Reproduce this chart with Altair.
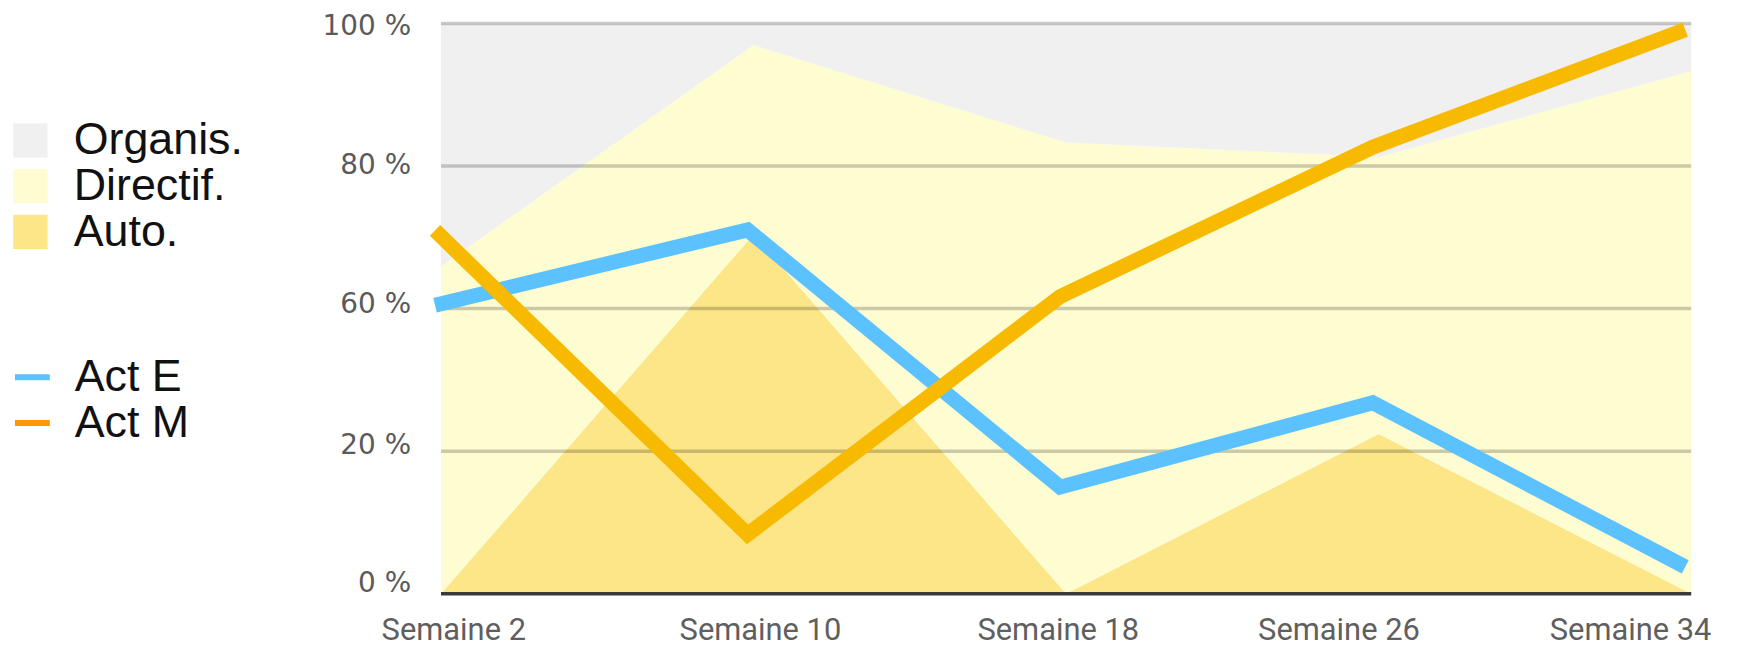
import altair as alt
import pandas as pd

# ---- data ----
semaines = ["Semaine 2", "Semaine 10", "Semaine 18", "Semaine 26", "Semaine 34"]
auto = [0, 63, 0, 28, 0]
directif = [57.4, 33.2, 79.1, 48.6, 91.6]
organis = [42.6, 3.8, 20.9, 23.4, 8.4]
act_e = [50.6, 63.8, 18.7, 33.5, 4.7]
act_m = [63.7, 10.4, 52.1, 78.3, 98.9]

y_grid = [25, 50, 75, 100]
y_labels = ["0 %", "20 %", "60 %", "80 %", "100 %"]

area_names = ["Organis.", "Directif.", "Auto."]
area_colors = ["#F0F0F0", "#FEFCD1", "#FCE687"]
line_names = ["Act E", "Act M"]
line_colors = ["#5BC2FF", "#F7BA00"]
line_legend_colors = ["#5BC2FF", "#FF9800"]

# label placement (style): where each tick label sits along its axis
x_label_pos = [0.041, 1.022, 1.975, 2.873, 3.806]
y_label_pos = [0.3, 24.43, 49.21, 73.59, 98.04]

W, H = 1256, 573

# ---- tables ----
rows = []
for i, s in enumerate(semaines):
    rows.append({"idx": i, "semaine": s, "categorie": "Auto.", "valeur": auto[i], "rang": 0})
    rows.append({"idx": i, "semaine": s, "categorie": "Directif.", "valeur": directif[i], "rang": 1})
    rows.append({"idx": i, "semaine": s, "categorie": "Organis.", "valeur": organis[i], "rang": 2})
areas_df = pd.DataFrame(rows)

lrows = []
for i, s in enumerate(semaines):
    lrows.append({"idx": i, "semaine": s, "serie": "Act E", "valeur": act_e[i]})
    lrows.append({"idx": i, "semaine": s, "serie": "Act M", "valeur": act_m[i]})
lines_df = pd.DataFrame(lrows)

grid_df = pd.DataFrame({"v": y_grid})
base_df = pd.DataFrame({"v": [0]})
xlab_df = pd.DataFrame({"pos": x_label_pos, "txt": semaines})
ylab_df = pd.DataFrame({"pos": y_label_pos, "txt": y_labels})

x_scale = alt.Scale(domain=[0, len(semaines) - 1], nice=False, zero=False)
y_scale = alt.Scale(domain=[0, 100], nice=False, zero=True)

areas = alt.Chart(areas_df).mark_area(opacity=1, interpolate="linear").encode(
    x=alt.X("idx:Q", scale=x_scale, axis=None),
    y=alt.Y("valeur:Q", stack="zero", scale=y_scale, axis=None),
    color=alt.Color(
        "categorie:N",
        scale=alt.Scale(domain=area_names, range=area_colors),
        legend=alt.Legend(
            title=None, orient="none", legendX=-435, legendY=95,
            symbolType="square", symbolSize=1190, symbolStrokeWidth=0,
            symbolOpacity=1, labelFont="Liberation Sans", labelFontSize=45,
            labelColor="#111111", labelOffset=21, rowPadding=0, padding=0,
            labelLimit=0,
        ),
    ),
    order=alt.Order("rang:Q", sort="ascending"),
)

grid = alt.Chart(grid_df).mark_rule(color="#000000", opacity=0.2, strokeWidth=3.5).encode(
    y=alt.Y("v:Q", scale=y_scale, axis=None),
)

baseline = alt.Chart(base_df).mark_rule(color="#3a3a3a", strokeWidth=3.5).encode(
    y=alt.Y("v:Q", scale=y_scale, axis=None),
)

# invisible layer that only carries the line legend (legend swatch colours)
line_legend = alt.Chart(lines_df).mark_line(opacity=0, strokeWidth=6).encode(
    x=alt.X("idx:Q", scale=x_scale, axis=None),
    y=alt.Y("valeur:Q", scale=y_scale, axis=None),
    stroke=alt.Stroke(
        "serie:N",
        scale=alt.Scale(domain=line_names, range=line_legend_colors),
        legend=alt.Legend(
            title=None, orient="none", legendX=-433, legendY=333,
            symbolType="stroke", symbolSize=1225, symbolStrokeWidth=6,
            symbolOpacity=1, labelFont="Liberation Sans", labelFontSize=45,
            labelColor="#111111", labelOffset=20, rowPadding=0, padding=0,
            labelLimit=0,
        ),
    ),
)

lines = alt.Chart(lines_df).mark_line(
    strokeWidth=15, strokeCap="butt", strokeJoin="miter", xOffset=-6
).encode(
    x=alt.X("idx:Q", scale=x_scale, axis=None),
    y=alt.Y("valeur:Q", scale=y_scale, axis=None),
    detail="serie:N",
    stroke=alt.condition(
        f"datum.serie == '{line_names[1]}'",
        alt.value(line_colors[1]),
        alt.value(line_colors[0]),
    ),
)

xlabels = alt.Chart(xlab_df).mark_text(
    font="Roboto", fontSize=31, color="#5f5f5f", align="center", baseline="alphabetic"
).encode(
    x=alt.X("pos:Q", scale=x_scale, axis=None),
    y=alt.value(H + 46),
    text="txt:N",
)

ylabels = alt.Chart(ylab_df).mark_text(
    font="DejaVu Sans", fontSize=28, color="#5a5a5a", align="right", baseline="alphabetic"
).encode(
    x=alt.value(-30),
    y=alt.Y("pos:Q", scale=y_scale, axis=None),
    text="txt:N",
)

chart = alt.layer(areas, grid, baseline, line_legend, lines, xlabels, ylabels).properties(
    width=W, height=H,
    autosize=alt.AutoSizeParams(type="none"),
    padding={"left": 435, "top": 14, "right": 47, "bottom": 54},
    background="white",
).configure_view(stroke=None)

chart.save("out.html", embed_options={"renderer": "svg", "actions": False})
